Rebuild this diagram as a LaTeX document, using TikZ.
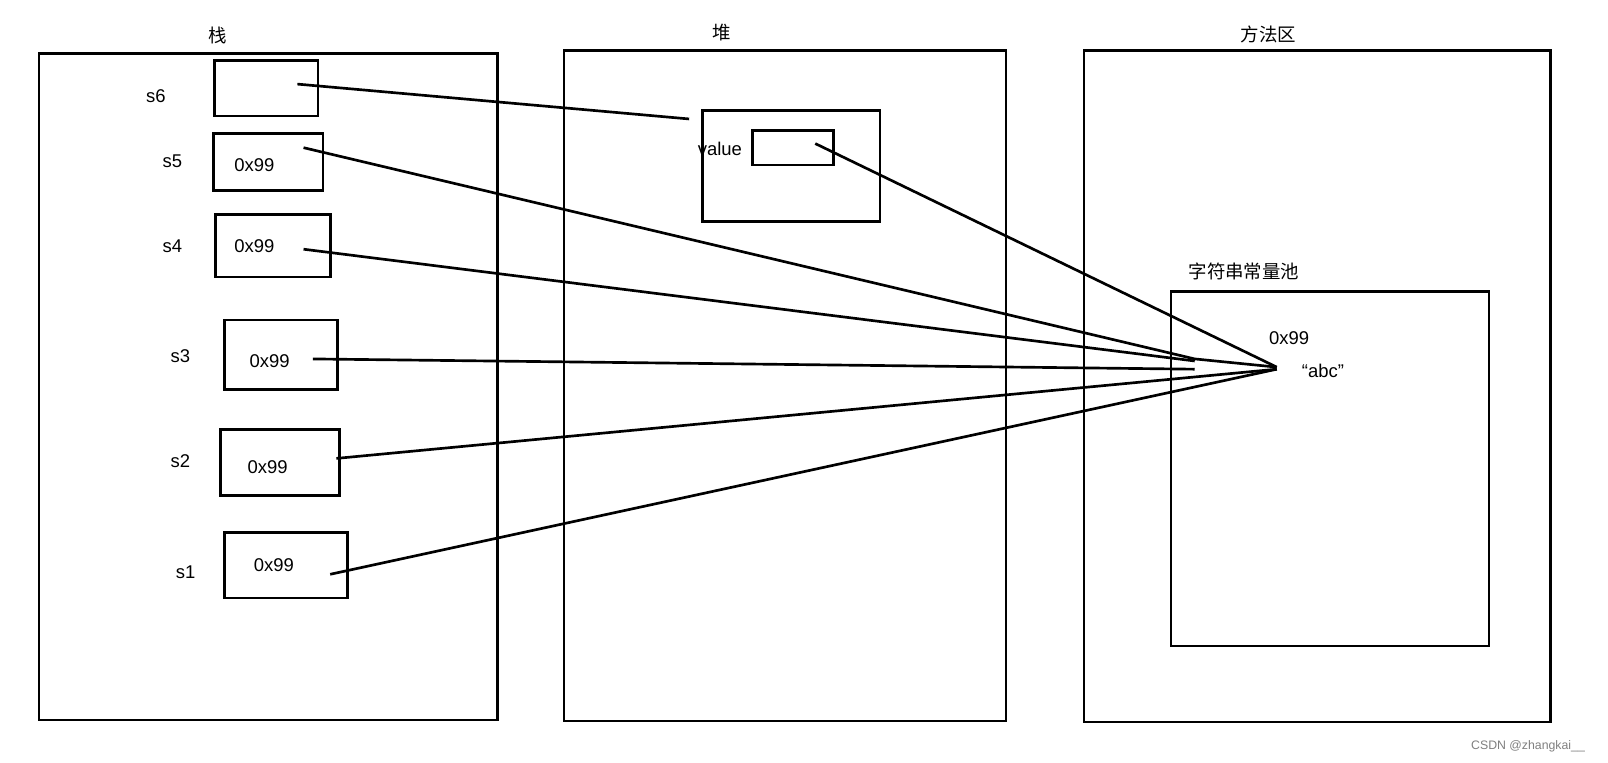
\documentclass[tikz,border=0pt]{standalone}
\usepackage{fontspec}
\setmainfont{Liberation Sans}
\newfontfamily\cjk{Noto Sans CJK SC}
\begin{document}
\begin{tikzpicture}[x=1pt,y=-1pt,
  box/.style={draw,line width=2.6pt},
  ln/.style={line width=2.6pt},
  txt/.style={font=\fontsize{18}{21}\selectfont,inner sep=0pt},
  ctxt/.style={font=\cjk\fontsize{18}{21}\selectfont,inner sep=0pt}]
\useasboundingbox[fill=white] (0,0) rectangle (1568,744);
% regions
\draw[box] (38,52) rectangle (485,702);
\draw[box] (550,49) rectangle (981,703);
\draw[box] (1057,49) rectangle (1512,704);
\draw[box] (1142,284) rectangle (1452,630);
\node[ctxt] (lstack) at (212,35) {栈};
\node[ctxt] (lheap) at (704,32) {堆};
\node[ctxt] (lmeth) at (1237,34) {方法区};
\node[ctxt] (lpool) at (1213,265) {字符串常量池};
\node[txt] (addr) at (1257,330) {0x99};
\node[txt] (abc) at (1290,362) {“abc”};
% heap object
\draw[box] (685,108) rectangle (858,216);
\draw[box] (734,127) rectangle (813,161);
\node[txt] (val) at (702,145) {value};
% stack boxes
\draw[box] (209,59) rectangle (310,113);
\draw[box] (208,130) rectangle (315,186);
\draw[box] (210,209) rectangle (322,270);
\draw[box] (219,312) rectangle (329,380);
\draw[box] (215,419) rectangle (331,483);
\draw[box] (219,519) rectangle (339,583);
\node[txt] (n6) at (152,94) {s6};
\node[txt] (n5) at (168,157) {s5};
\node[txt] (n4) at (168,240) {s4};
\node[txt] (n3) at (176,347) {s3};
\node[txt] (n2) at (176,450) {s2};
\node[txt] (n1) at (181,558) {s1};
\node[txt] (v5) at (248,161) {0x99};
\node[txt] (v4) at (248,240) {0x99};
\node[txt] (v3) at (263,352) {0x99};
\node[txt] (v2) at (261,456) {0x99};
\node[txt] (v1) at (267,551) {0x99};
% connector points
\coordinate (p6) at (290,82);
\coordinate (h) at (672,116);
\coordinate (pv) at (795,140);
\coordinate (p5) at (296,144);
\coordinate (p4) at (296,243);
\coordinate (p3) at (305,350);
\coordinate (p2) at (328,447);
\coordinate (p1) at (322,560);
\coordinate (t) at (1245,358);
\coordinate (t5) at (1165,350);
\coordinate (t4) at (1165,352);
\coordinate (t3) at (1165,360);
\coordinate (t2) at (1245,360);
\draw[ln] (p6) -- (h);
\draw[ln] (pv) -- (t);
\draw[ln] (p5) -- (t5) -- (t);
\draw[ln] (p4) -- (t4);
\draw[ln] (p3) -- (t3);
\draw[ln] (p2) -- (t2);
\draw[ln] (p1) -- (t2);
\node[font=\fontsize{12}{14}\selectfont,text=gray] (wm) at (1490,728) {CSDN @zhangkai\_\_};
\end{tikzpicture}
\end{document}
